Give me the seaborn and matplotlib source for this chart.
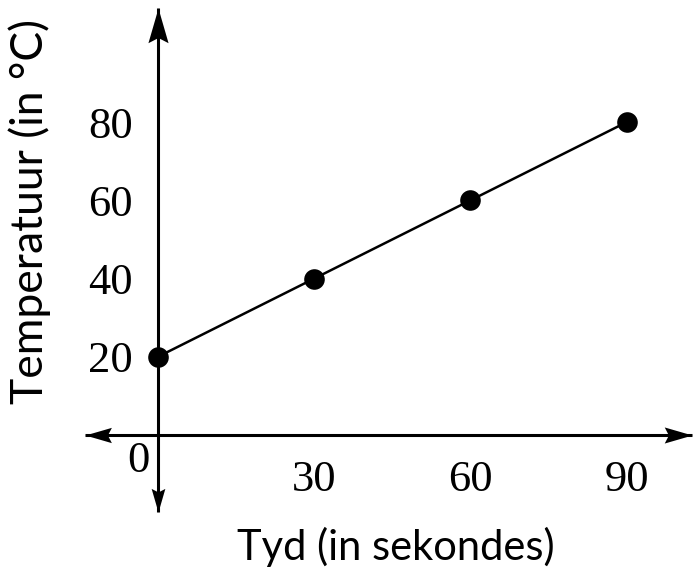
import numpy as np
import pandas as pd
import matplotlib
matplotlib.use("Agg")
import matplotlib.pyplot as plt
from matplotlib.path import Path
from matplotlib.markers import MarkerStyle
from matplotlib.transforms import Affine2D
import seaborn as sns

# Data
tyd = [0, 30, 60, 90]
temperatuur = [20, 40, 60, 80]
x_ticks = [30, 60, 90]
y_ticks = [20, 40, 60, 80]
x_label = "Tyd (in sekondes)"
y_label = "Temperatuur (in °C)"

sns.set_theme(style="white")
num_font = "Liberation Serif"
lab_font = "Lato"

fig = plt.figure(figsize=(6.94, 5.72), dpi=100)
ax = fig.add_axes([0, 0, 1, 1])
ax.patch.set_alpha(0)

df = pd.DataFrame({"t": tyd, "T": temperatuur})
sns.lineplot(data=df, x="t", y="T", ax=ax, color="black", linewidth=1.8, zorder=3)
sns.scatterplot(data=df, x="t", y="T", ax=ax, color="black", s=220, edgecolor="black",
                linewidth=0, zorder=4, clip_on=False)

# mapping: px per unit
ax.set_xlim(-30.3, 102.9)
ax.set_ylim(-35.0, 111.2)

x_lo, x_hi = -14.0, 102.6
y_lo, y_hi = -19.6, 109.1

for s in ["top", "right"]:
    ax.spines[s].set_visible(False)
ax.spines["left"].set_position(("data", 0))
ax.spines["bottom"].set_position(("data", 0))
ax.spines["left"].set_bounds(y_lo, y_hi)
ax.spines["bottom"].set_bounds(x_lo, x_hi)
for s in ["left", "bottom"]:
    ax.spines[s].set_color("black")
    ax.spines[s].set_linewidth(2.2)
    ax.spines[s].set_capstyle("butt")

ax.set_xticks(x_ticks)
ax.set_yticks(y_ticks)
ax.set_xticklabels([str(v) for v in x_ticks], fontfamily=num_font, fontsize=32)
ax.set_yticklabels([str(v) for v in y_ticks], fontfamily=num_font, fontsize=32)
ax.tick_params(axis="x", direction="out", length=17, width=2.2, color="black", pad=1, labelcolor="black")
ax.tick_params(axis="y", direction="in", length=16, width=2.2, color="black", pad=18, labelcolor="black")
ax.set_xlabel("")
ax.set_ylabel("")
ax.grid(False)

ax.annotate("0", xy=(0, 0), xytext=(-14, -4), textcoords="offset points",
            ha="center", va="top", fontfamily=num_font, fontsize=32, color="black")

# arrowheads (stealth style)
verts = [(0, 0), (-1, 0.29), (-0.85, 0), (-1, -0.29), (0, 0)]
codes = [Path.MOVETO, Path.LINETO, Path.LINETO, Path.LINETO, Path.CLOSEPOLY]
head = Path(verts, codes)

def arrow(x, y, angle, size):
    m = MarkerStyle(head, transform=Affine2D().rotate_deg(angle))
    ax.plot([x], [y], marker=m, markersize=size, color="black", markeredgewidth=0,
            linestyle="none", clip_on=False, zorder=5)

arrow(x_hi, 0, 0, 40)
arrow(x_lo, 0, 180, 38)
arrow(0, y_hi, 90, 50)
arrow(0, y_lo, 270, 34)

fig.text(396 / 694, 1 - 547 / 572, x_label, ha="center", va="center",
         fontfamily=lab_font, fontsize=30, color="black")
fig.text(30 / 694, 1 - 212 / 572, y_label, ha="center", va="center", rotation=90,
         fontfamily=lab_font, fontsize=32, color="black")

fig.savefig("out.png", dpi=100)
